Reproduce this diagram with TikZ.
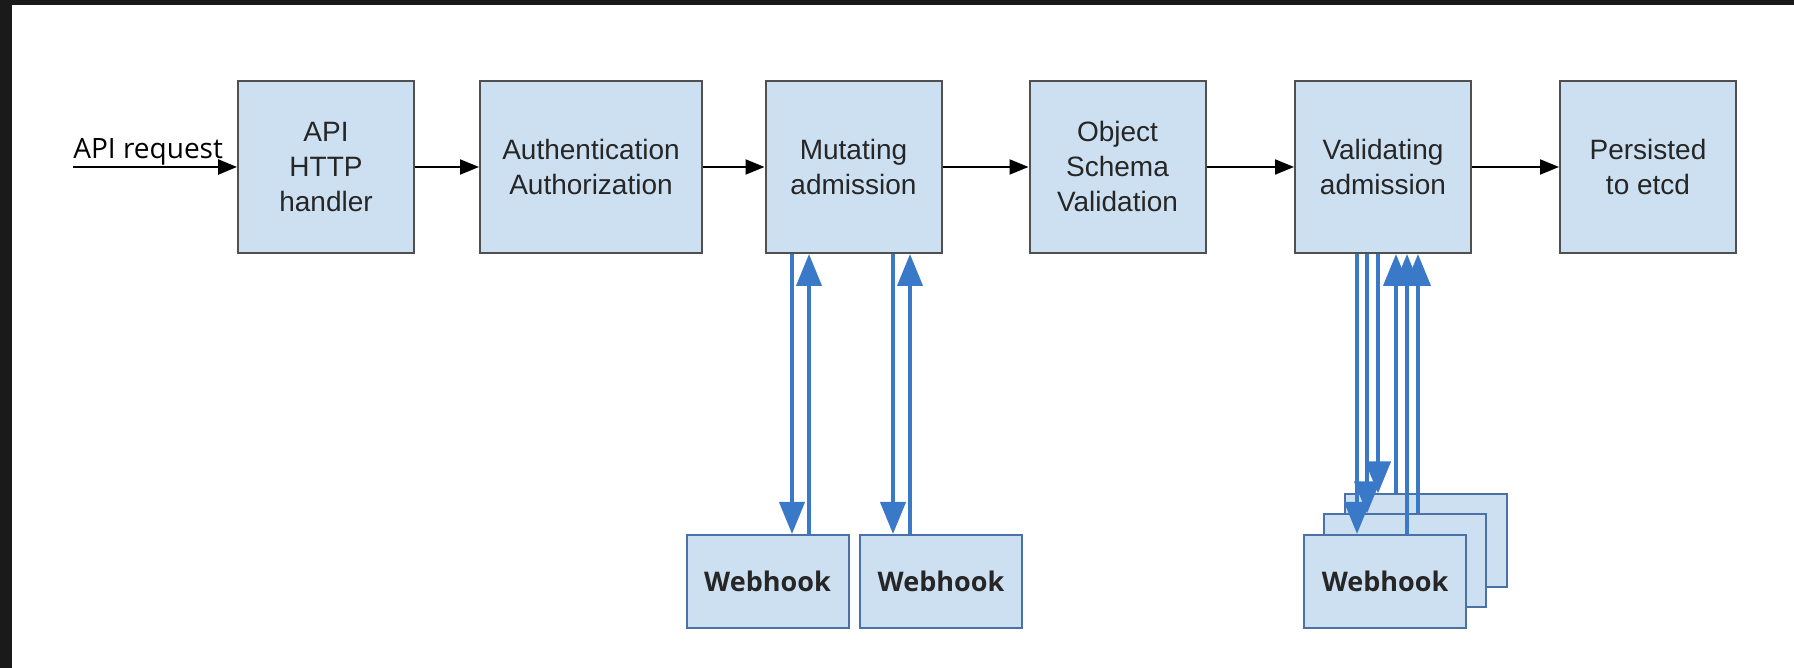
\documentclass[tikz,border=0pt]{standalone}
\usepackage{fontspec}
\setmainfont{Liberation Sans}
\newfontfamily\hookfont{Open Sans}
\usepackage{xcolor}
\usepackage{tikz}
\usetikzlibrary{arrows.meta}

\definecolor{boxfill}{HTML}{CCE0F1}
\definecolor{boxline}{HTML}{505050}
\definecolor{hookline}{HTML}{4A72A8}
\definecolor{hookblue}{HTML}{3A78C8}
\definecolor{frame}{HTML}{1A1A1A}

\begin{document}
\begin{tikzpicture}[x=0.5pt,y=0.5pt,
  box/.style={draw=boxline,line width=1pt,fill=boxfill,minimum height=86pt,minimum width=88pt,inner sep=0pt,align=center,text=black!85,font=\fontsize{14}{17.5}\selectfont},
  hook/.style={draw=hookline,line width=1pt,fill=boxfill,minimum width=81pt,minimum height=46.5pt,inner sep=0pt,text=black!85,font=\hookfont\bfseries\fontsize{13.5}{16}\selectfont},
  flow/.style={-{Triangle[length=9.5pt,width=7.5pt]},line width=1pt},
  call/.style={hookblue,line width=2pt,-{Triangle[length=16pt,width=12.5pt]}}]
% frame
\fill[frame](0,0)rectangle(1794,668);
\fill[white](12,0)rectangle(1794,663);
% main chain
\node[box](api)at(326,501){API\\HTTP\\handler};
\node[box,minimum width=111pt](auth)at(591,501){Authentication\\Authorization};
\node[box](mut)at(853.5,501){Mutating\\admission};
\node[box](obj)at(1117.5,501){Object\\Schema\\Validation};
\node[box](val)at(1383,501){Validating\\admission};
\node[box](etcd)at(1648,501){Persisted\\to etcd};
\coordinate(in)at(73,501);
\node[anchor=base west,inner sep=0pt,font=\hookfont\fontsize{14}{16}\selectfont](req)at(73,509){API request};
\draw[flow,line width=1.3pt](in)--(api);
\draw[flow](api)--(auth);
\draw[flow](auth)--(mut);
\draw[flow](mut)--(obj);
\draw[flow](obj)--(val);
\draw[flow](val)--(etcd);
% webhooks
\node[hook](w1)at(767.5,86.5){Webhook};
\node[hook](w2)at(941,86.5){Webhook};
\node[hook](v3)at(1425.5,127){};
\node[hook](v2)at(1405,107){};
\node[hook](v1)at(1385,86.5){Webhook};
% calls
\draw[call](792,0 |- mut.south)--(792,0 |- w1.north);
\draw[call](809,0 |- w1.north)--(809,0 |- mut.south);
\draw[call](893,0 |- mut.south)--(893,0 |- w2.north);
\draw[call](910,0 |- w2.north)--(910,0 |- mut.south);
\foreach \x/\h in {1357/v1,1367/v2,1378/v3}
  \draw[call](\x,0 |- val.south)--(\x,0 |- \h.north);
\foreach \x/\h in {1396/v3,1407/v1,1418/v2}
  \draw[call](\x,0 |- \h.north)--(\x,0 |- val.south);
\end{tikzpicture}
\end{document}
